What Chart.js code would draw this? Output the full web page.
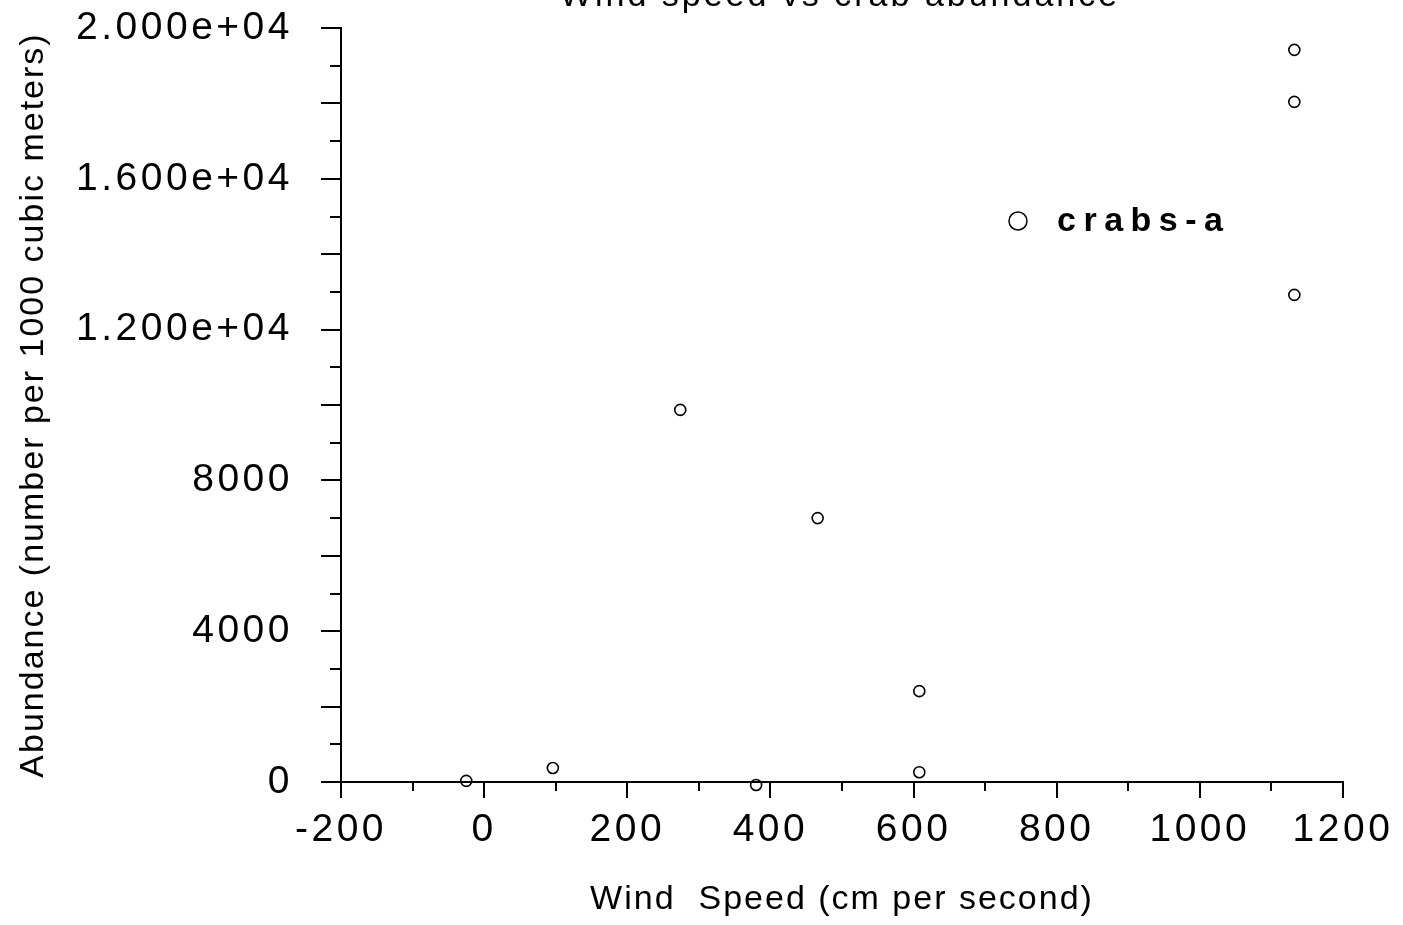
<!DOCTYPE html>
<html>
<head>
<meta charset="utf-8">
<title>Wind speed vs crab abundance</title>
<script src="https://cdn.jsdelivr.net/npm/chart.js@4.4.1/dist/chart.umd.min.js"></script>
<style>
  html, body { margin: 0; padding: 0; background: #fff; }
  canvas { display: block; }
</style>
</head>
<body>
<canvas id="crabChart" width="1403" height="925"></canvas>
<script>
// Data
const chartTitle = 'Wind speed vs crab abundance';
const seriesName = 'crabs-a';
const windSpeed = [-25, 96, 274, 380, 466, 608, 608, 1132, 1132, 1132];
const abundance = [30, 370, 9870, -80, 7000, 2410, 260, 19420, 18040, 12920];
const xTitle = 'Wind  Speed (cm per second)';
const yTitle = 'Abundance (number per 1000 cubic meters)';

const FONT = "'Liberation Sans', Arial, Helvetica, sans-serif";

const points = windSpeed.map((x, i) => ({ x: x, y: abundance[i] }));

// y labels: big values in e-notation like the original
function yLabel(v) {
  if (v >= 10000) return v.toExponential(3).replace(/e\+(\d)$/, 'e+0$1');
  return String(v);
}
function xLabel(v) {
  return String(v);
}

// letter spacing for the different text groups
const spacingPlugin = {
  id: 'spacing',
  beforeDraw(chart) {
    const ctx = chart.ctx;
    ctx.save();
    ctx.fillStyle = '#fff';
    ctx.fillRect(0, 0, chart.width, chart.height);
    ctx.restore();
    ctx.letterSpacing = '2px'; // axis titles
  },
  afterDatasetsDraw(chart) {
    chart.ctx.letterSpacing = '3.5px'; // tick labels (z: 1)
  }
};

// outward tick marks, major/minor, plus title and legend
const decorPlugin = {
  id: 'decor',
  afterDraw(chart) {
    const ctx = chart.ctx;
    const xs = chart.scales.x, ys = chart.scales.y;
    const area = chart.chartArea;
    ctx.save();
    ctx.strokeStyle = '#000';
    ctx.lineWidth = 2;
    ctx.beginPath();
    for (let v = xs.min; v <= xs.max; v += 100) {
      const px = Math.round(xs.getPixelForValue(v));
      const len = (v % 200 === 0) ? 16 : 9;
      ctx.moveTo(px, area.bottom);
      ctx.lineTo(px, area.bottom + len);
    }
    for (let v = ys.min; v <= ys.max; v += 1000) {
      const py = Math.round(ys.getPixelForValue(v));
      const len = (v % 2000 === 0) ? 20 : 11;
      ctx.moveTo(area.left, py);
      ctx.lineTo(area.left - len, py);
    }
    ctx.stroke();

    // title, cut off at the top edge as in the original
    ctx.letterSpacing = '3px';
    ctx.fillStyle = '#000';
    ctx.font = '34px ' + FONT;
    ctx.textAlign = 'center';
    ctx.textBaseline = 'alphabetic';
    ctx.fillText(chartTitle, 840, 6);

    // legend inside the plot
    ctx.lineWidth = 1.5;
    ctx.beginPath();
    ctx.arc(1018, 221, 9, 0, Math.PI * 2);
    ctx.stroke();
    ctx.letterSpacing = '7.5px';
    ctx.font = 'bold 34px ' + FONT;
    ctx.textAlign = 'left';
    ctx.textBaseline = 'middle';
    ctx.fillText(chart.data.datasets[0].label, 1057, 222);
    ctx.letterSpacing = '0px';
    ctx.restore();
  }
};

const ctx = document.getElementById('crabChart').getContext('2d');
new Chart(ctx, {
  type: 'scatter',
  data: {
    datasets: [{
      label: seriesName,
      data: points,
      pointStyle: 'circle',
      pointRadius: 5.5,
      pointBorderWidth: 1.6,
      pointBorderColor: '#000',
      pointBackgroundColor: 'rgba(0,0,0,0)',
      clip: false
    }]
  },
  options: {
    responsive: false,
    animation: false,
    layout: { padding: { left: 0, right: 60, top: 28, bottom: 0 } },
    plugins: {
      legend: { display: false },
      title: { display: false },
      tooltip: { enabled: false }
    },
    scales: {
      x: {
        type: 'linear',
        min: -200, max: 1200,
        grid: { display: false, drawTicks: false },
        border: { display: true, color: '#000', width: 2 },
        ticks: { stepSize: 200, z: 1, padding: 25, color: '#000', font: { family: FONT, size: 39 }, callback: xLabel },
        title: { display: true, text: xTitle, color: '#000', padding: { top: 0, bottom: 5 }, font: { family: FONT, size: 34 } },
        afterFit(scale) { scale.height = 143; scale.paddingLeft = 0; scale.paddingRight = 0; }
      },
      y: {
        type: 'linear',
        min: 0, max: 20000,
        grid: { display: false, drawTicks: false },
        border: { display: true, color: '#000', width: 2 },
        ticks: { stepSize: 4000, z: 1, padding: 48, color: '#000', font: { family: FONT, size: 39 }, callback: yLabel },
        title: { display: true, text: yTitle, color: '#000', padding: { top: 13, bottom: 0 }, font: { family: FONT, size: 34 } },
        afterFit(scale) { scale.width = 341; scale.paddingTop = 0; scale.paddingBottom = 0; }
      }
    }
  },
  plugins: [spacingPlugin, decorPlugin]
});
</script>
</body>
</html>
